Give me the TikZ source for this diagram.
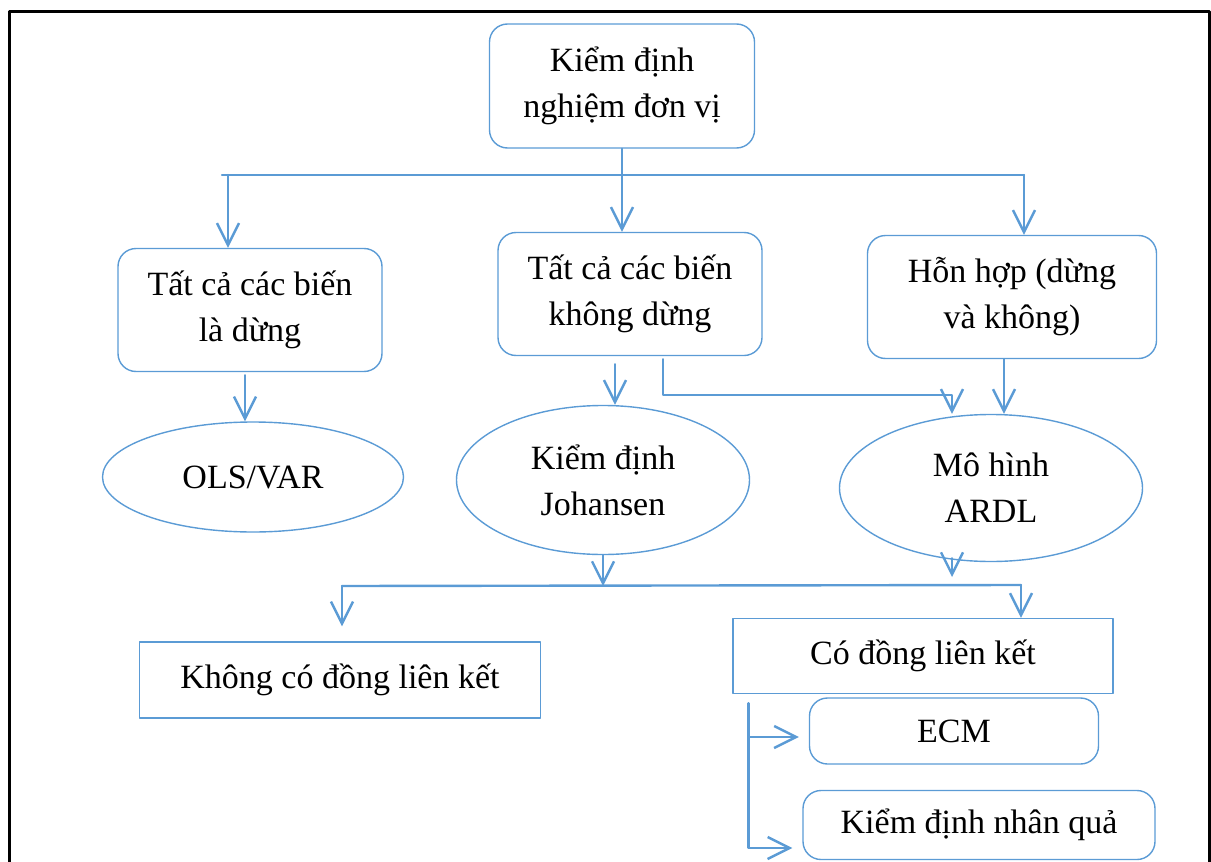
\documentclass[tikz,border=0pt]{standalone}
\usepackage{fontspec}
\setmainfont{Liberation Serif}
\usetikzlibrary{arrows.meta,shapes.geometric}
\definecolor{lineblue}{HTML}{5B9BD5}
\tikzset{
  rbox/.style={draw=lineblue,line width=0.7pt,rounded corners=9pt,align=center,inner sep=0pt},
  sbox/.style={draw=lineblue,line width=0.7pt,align=center,inner sep=0pt},
  oval/.style={draw=lineblue,line width=0.7pt,ellipse,align=center,inner sep=0pt},
  link/.style={draw=lineblue,line width=1.2pt},
  arr/.style={link,-{Straight Barb[length=11pt,width=11pt,line width=1.2pt]}}
}
\begin{document}
\begin{tikzpicture}[x=0.5pt,y=-0.5pt,line cap=round,line join=round,font=\fontsize{17}{23}\selectfont]
  \useasboundingbox (0,0) rectangle (1211,862);
  \draw[line width=1.5pt,line cap=butt] (9.5,880) -- (9.5,11.5) -- (1209.5,11.5) -- (1209.5,880);
  % nodes
  \node[rbox,minimum width=132.5pt,minimum height=62pt] (top) at (622,86) {Kiểm định\\nghiệm đơn vị};
  \node[rbox,minimum width=132pt,minimum height=61.5pt] (b1) at (250,310) {Tất cả các biến\\là dừng};
  \node[rbox,minimum width=132pt,minimum height=61.5pt] (b2) at (630,294) {Tất cả các biến\\không dừng};
  \node[rbox,minimum width=144.5pt,minimum height=61.5pt] (b3) at (1012,297) {Hỗn hợp (dừng\\và không)};
  \node[oval,minimum width=150.5pt,minimum height=55pt] (e1) at (253,477) {OLS/VAR};
  \node[oval,minimum width=146.5pt,minimum height=74.5pt] (e2) at (603,480) {Kiểm định\\Johansen};
  \node[oval,minimum width=151.5pt,minimum height=73.5pt] (e3) at (991,488) {Mô hình\\ARDL};
  \node[sbox,minimum width=200.5pt,minimum height=38pt] (nc) at (340,680) {Không có đồng liên kết};
  \node[sbox,minimum width=190pt,minimum height=37.5pt] (co) at (923,656) {Có đồng liên kết};
  \node[rbox,minimum width=144.5pt,minimum height=33pt] (ecm) at (954,731) {ECM};
  \node[rbox,minimum width=176pt,minimum height=34.5pt] (cause) at (979,825) {Kiểm định nhân quả};
  % first split
  \coordinate (hl) at (228,175);
  \coordinate (hr) at (1024,175);
  \draw[link] ([xshift=-3pt]hl) -- (hr);
  \draw[arr] (top.south) -- (top.south |- b2.north);
  \draw[arr] (hl) -- (hl |- b1.north);
  \draw[arr] (hr) -- (hr |- b3.north);
  % to the tests
  \draw[arr,shorten <=1.5pt] ([xshift=-2.5pt]b1.south) -- ([xshift=-2.5pt]b1.south |- e1.north);
  \draw[arr,shorten <=4pt] ([xshift=-7.5pt]b2.south) -- ([xshift=-7.5pt]b2.south |- e2.north);
  \coordinate (m) at ([xshift=-19.5pt,yshift=9.5pt]e3.north);
  \draw[arr,shorten <=1.5pt] ([xshift=16.5pt]b2.south) |- (m) -- (m |- e3.north);
  \draw[arr] ([xshift=-4pt]b3.south) -- ([xshift=-4pt]b3.south |- e3.north);
  % second split
  \coordinate (hl2) at (342,586);
  \coordinate (hr2) at (1021,585);
  \coordinate (ar) at ([xshift=-19.5pt,yshift=2pt]e3.south);
  \draw[link] (hl2) -- (hr2);
  \draw[arr] (e2.south) -- (e2.south |- hl2);
  \draw[arr,shorten >=4.5pt] (ar) -- (ar |- hl2);
  \draw[arr,shorten >=7.5pt] (hl2) -- (hl2 |- nc.north);
  \draw[arr] (hr2) -- (hr2 |- co.north);
  % results
  \coordinate (v) at ([xshift=8pt,yshift=-4.5pt]co.south west);
  \draw[arr,shorten >=5pt] (v) |- ([yshift=-11.5pt]cause.west);
  \draw[arr,shorten >=5pt] ([yshift=-3pt]v |- ecm.west) -- ([yshift=-3pt]ecm.west);
\end{tikzpicture}
\end{document}
